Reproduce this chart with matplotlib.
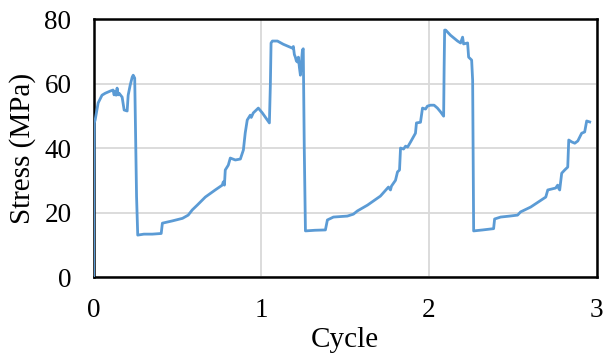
import matplotlib
matplotlib.use("Agg")
import matplotlib.pyplot as plt

# valores: ciclo x tensao (MPa)
ciclo = [
    0.0, 0.002, 0.004, 0.009, 0.027, 0.05, 0.069, 0.1, 0.116, 0.122, 0.128,
    0.134, 0.14, 0.146, 0.152, 0.17, 0.182, 0.2, 0.206, 0.218, 0.23, 0.236,
    0.245, 0.25, 0.256, 0.263, 0.3, 0.35, 0.403, 0.41, 0.469, 0.53, 0.564,
    0.588, 0.618, 0.666, 0.725, 0.767, 0.773, 0.78, 0.785, 0.803, 0.815,
    0.845, 0.875, 0.893, 0.904, 0.916, 0.934, 0.94, 0.952, 0.982, 1.006,
    1.048,
    1.054, 1.058, 1.066, 1.096, 1.131, 1.185, 1.191, 1.197, 1.203, 1.209,
    1.215, 1.221, 1.227, 1.233, 1.245, 1.25, 1.256, 1.263, 1.32, 1.382,
    1.394, 1.43, 1.513, 1.549, 1.573, 1.633, 1.71, 1.758, 1.77, 1.776, 1.8,
    1.812, 1.824, 1.83, 1.848, 1.86, 1.872, 1.89, 1.919, 1.925, 1.949,
    1.961, 1.979, 1.99, 2.009, 2.03, 2.05, 2.069, 2.087,
    2.09, 2.093, 2.099, 2.128, 2.17, 2.188, 2.2, 2.206, 2.23, 2.236, 2.254,
    2.26, 2.266, 2.32, 2.385, 2.391, 2.427, 2.481, 2.528, 2.546, 2.606,
    2.696, 2.708, 2.755, 2.767, 2.773, 2.779, 2.791, 2.809, 2.827, 2.833,
    2.851, 2.869, 2.887, 2.91, 2.928, 2.94, 2.958,
]
tensao = [
    0.0, 30.0, 47.8, 48.7, 54.0, 56.4, 57.0, 57.7, 58.0, 56.5, 57.5,
    56.4, 58.6, 56.5, 57.0, 55.8, 51.8, 51.5, 56.4, 59.5, 62.0, 62.6,
    61.7, 45.0, 25.0, 13.0, 13.3, 13.3, 13.5, 16.7, 17.4, 18.2, 19.2,
    20.8, 22.3, 24.8, 27.0, 28.5, 29.5, 28.5, 33.2, 34.7, 36.9,
    36.3, 36.6, 39.4, 44.7, 48.7, 50.2, 49.5, 50.9, 52.4, 50.9,
    47.8,
    60.0, 72.6, 73.2, 73.2, 72.2, 71.0, 71.5, 69.0, 68.2, 67.0,
    66.7, 68.2, 65.0, 62.6, 70.4, 70.8, 40.0, 14.3, 14.5, 14.6,
    17.7, 18.6, 18.9, 19.5, 20.5, 22.3, 25.1, 27.9, 27.0, 28.2, 30.0,
    32.6, 33.2, 40.0, 39.7, 40.6, 40.3, 41.9, 44.6, 47.8, 48.0,
    52.4, 52.1, 53.0, 53.3, 53.3, 52.4, 51.2, 49.9,
    65.0, 76.6, 76.6, 75.0, 73.2, 72.6, 74.4, 72.3, 72.6, 68.2, 67.3,
    61.0, 14.3, 14.6, 15.0, 18.0, 18.6, 18.9, 19.2, 20.2, 21.7,
    24.8, 27.0, 27.6, 28.5, 27.5, 27.0, 32.2, 33.2, 34.1, 42.5,
    41.9, 41.5, 42.2, 44.6, 45.0, 48.4, 48.1,
]

plt.rcParams["font.family"] = ["Liberation Serif", "DejaVu Serif"]

fig = plt.figure(figsize=(6.04, 3.54), dpi=100)
ax = fig.add_axes([0.155, 0.2175, 0.833, 0.7285])

ax.plot(ciclo, tensao, color="#5B9BD5", linewidth=2.0, zorder=3)

ax.set_xlim(0, 3)
ax.set_ylim(0, 80)
ax.set_xticks([0, 1, 2, 3])
ax.set_yticks([0, 20, 40, 60, 80])
ax.grid(color="#d9d9d9", linewidth=1.3)
ax.set_axisbelow(True)
ax.tick_params(length=0, labelsize=19.5)
ax.tick_params(axis="x", pad=15)
ax.tick_params(axis="y", pad=16)
for lado in ax.spines.values():
    lado.set_color("black")
    lado.set_linewidth(1.8)

ax.set_xlabel("Cycle", fontsize=21)
ax.set_ylabel("Stress (MPa)", fontsize=21)
ax.xaxis.set_label_coords(0.5, -0.195)
ax.yaxis.set_label_coords(-0.115, 0.5)

fig.savefig("out.png", dpi=100)
